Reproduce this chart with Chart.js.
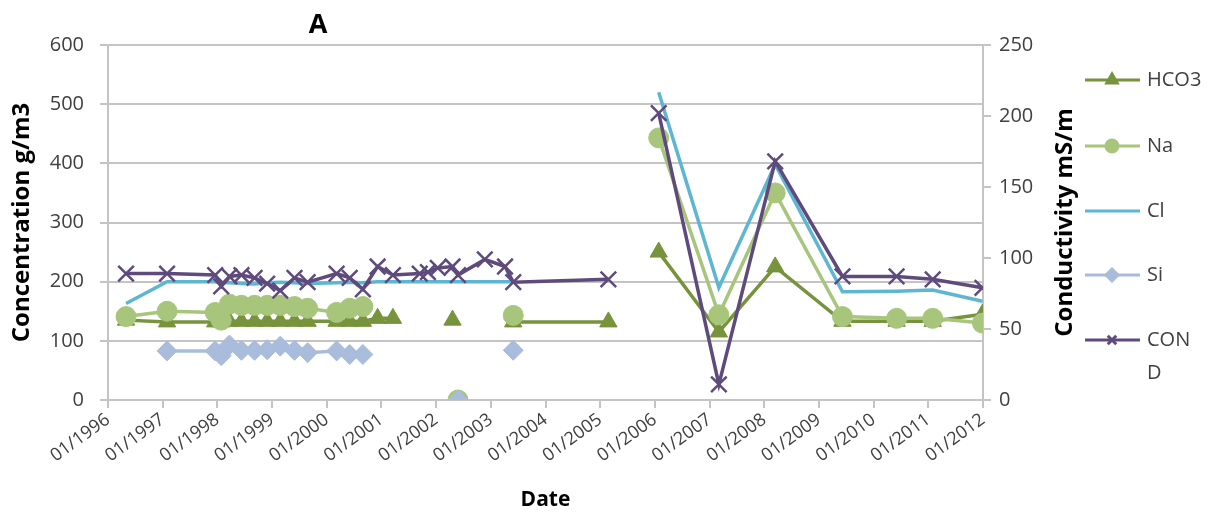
<!DOCTYPE html>
<html>
<head>
<meta charset="utf-8">
<script src="https://cdn.jsdelivr.net/npm/chart.js@4.4.1/dist/chart.umd.min.js"></script>
<style>
  html, body { margin: 0; padding: 0; background: #fff; }
  #wrap { position: relative; width: 1216px; height: 519px; }
</style>
</head>
<body>
<div id="wrap"><canvas id="chart"></canvas></div>
<script>
// sample dates as decimal years (shared by all series, null = no sample)
const dates = [1996.33, 1997.08, 1997.96, 1998.07, 1998.22, 1998.44, 1998.68, 1998.91, 1999.15, 1999.41,
  1999.65, 2000.18, 2000.42, 2000.66, 2000.93, 2001.21, 2001.70, 2001.85, 2002.03, 2002.30,
  2002.40, 2002.89, 2003.26, 2003.41, 2005.15, 2005.60, 2006.07, 2007.17, 2008.20, 2009.43,
  2010.42, 2011.08, 2011.99];

const hco3 = [135, 132, 132, 132, 133, 133, 133, 133, 133, 133,
  133, 133, 133, 133, 138, 138, null, null, null, 135,
  null, null, null, 132, 132, null, 250, 115, 225, 133,
  133, 133, 145];
const na = [141, 150, 148, 135, 162, 160, 160, 160, 160, 158,
  155, 148, 155, 158, null, null, null, null, null, null,
  0, null, null, 143, null, null, 443, 144, 350, 141,
  138, 138, 130];
const cl = [163, 200, 200, 198, 198, 197, 196, 198, 199, 198,
  197, 198, 199, 198, 200, 200, 200, 200, 200, 200,
  200, 200, 200, 200, null, null, 520, 190, 398, 183,
  184, 186, 167];
const si = [null, 83, 83, 75, 93, 84, 84, 85, 91, 84,
  80, 83, 77, 77, null, null, null, null, null, null,
  0, null, null, 84, null, null, null, null, null, null,
  null, null, null];
const cond = [89, 89, 88, 80, 87, 88, 86, 82, 77, 86,
  83, 89, 86, 78, 94, 88, 89, 90, 93, 94,
  88, 99, 94, 83, 85, null, 202, 11, 168, 87,
  87, 85, 79];

const yTicksLeft = [0, 100, 200, 300, 400, 500, 600];
const yTicksRight = [0, 50, 100, 150, 200, 250];
const xYears = [1996, 2012];

const FONT = '"Open Sans", sans-serif';
const TEXT = '#404040';
const GRID = '#c4c4c4';

function pts(vals) {
  return dates.map((d, i) => ({ x: d, y: vals[i] }));
}

function series(label, vals, color, style, radius, order, axis) {
  return {
    label, data: pts(vals), yAxisID: axis || 'y', order,
    borderColor: color, backgroundColor: color,
    borderWidth: 3.5, tension: 0, spanGaps: false,
    pointStyle: style, pointRadius: radius,
    pointBackgroundColor: color, pointBorderColor: color,
    pointBorderWidth: style === 'crossRot' ? 2.5 : 1
  };
}

const datasets = [
  series('HCO3', hco3, '#77933c', 'triangle', 10, 4),
  series('Na', na, '#a7c67b', 'circle', 10, 3),
  series('Cl', cl, '#5db6d2', false, 0, 2),
  series('Si', si, '#a9bcdb', 'rectRot', 10, 1),
  series('COND', cond, '#5f4a7d', 'crossRot', 11, 0, 'y1')
];

// extra text and legend drawn straight onto the canvas
const decorPlugin = {
  id: 'decor',
  afterDraw(chart) {
    const ctx = chart.ctx;
    const area = chart.chartArea;
    ctx.save();
    ctx.fillStyle = '#000';
    ctx.textAlign = 'center';
    ctx.textBaseline = 'middle';
    ctx.font = 'bold 27px ' + FONT;
    ctx.fillText('A', 318, 25);

    // right axis title reads bottom to top
    ctx.save();
    ctx.translate(1065, (area.top + area.bottom) / 2);
    ctx.rotate(-Math.PI / 2);
    ctx.font = 'bold 24px ' + FONT;
    ctx.fillText('Conductivity mS/m', 0, 0);
    ctx.restore();

    // legend
    const lx = chart.width - 131;
    const rows = [80, 146, 211, 275, 340];
    chart.data.datasets.forEach((ds, i) => {
      const y = rows[i];
      ctx.strokeStyle = ds.borderColor;
      ctx.lineWidth = 3;
      ctx.beginPath();
      ctx.moveTo(lx, y);
      ctx.lineTo(lx + 55, y);
      ctx.stroke();
      if (ds.pointStyle) {
        Chart.helpers.drawPoint(ctx, {
          pointStyle: ds.pointStyle, radius: 6, rotation: 0,
          borderWidth: ds.pointBorderWidth
        }, lx + 27, y);
        ctx.fillStyle = ds.borderColor;
        ctx.fill();
      }
      ctx.fillStyle = TEXT;
      ctx.textAlign = 'left';
      ctx.font = '20px ' + FONT;
      if (ds.label === 'COND') {
        ctx.fillText('CON', lx + 62, y);
        ctx.fillText('D', lx + 62, y + 33);
      } else {
        ctx.fillText(ds.label, lx + 62, y);
      }
    });
    ctx.restore();
  }
};

new Chart(document.getElementById('chart'), {
  type: 'line',
  data: { datasets },
  plugins: [decorPlugin],
  options: {
    responsive: true, maintainAspectRatio: false, animation: false,
    layout: { padding: { top: 45, right: 135, left: 0, bottom: 0 } },
    plugins: { legend: { display: false }, tooltip: { enabled: false } },
    scales: {
      x: {
        type: 'linear', min: xYears[0], max: xYears[1],
        afterFit: s => { s.height = 119; },
        afterBuildTicks: s => {
          s.ticks = [];
          for (let yr = xYears[0]; yr <= xYears[1]; yr++) s.ticks.push({ value: yr });
        },
        ticks: {
          autoSkip: false, maxRotation: 36, minRotation: 36, padding: 1,
          color: TEXT, font: { family: FONT, size: 18 },
          callback: v => '01/' + v
        },
        grid: { drawOnChartArea: false, tickLength: 8, color: GRID, lineWidth: 2 },
        border: { color: GRID, width: 2 },
        title: {
          display: true, text: 'Date', color: '#000',
          font: { family: FONT, size: 21, weight: 'bold' },
          padding: { top: 0, bottom: 6 }
        }
      },
      y: {
        position: 'left', min: 0, max: 600,
        afterFit: s => { s.width = 108; },
        afterBuildTicks: s => { s.ticks = yTicksLeft.map(v => ({ value: v })); },
        ticks: { color: TEXT, font: { family: FONT, size: 20 }, padding: 16 },
        grid: { color: GRID, lineWidth: 2, tickLength: 8 },
        border: { color: GRID, width: 2 },
        title: {
          display: true, text: 'Concentration g/m3', color: '#000',
          font: { family: FONT, size: 24, weight: 'bold' },
          padding: { top: 8, bottom: 0 }
        }
      },
      y1: {
        position: 'right', min: 0, max: 250,
        afterFit: s => { s.width = 98; },
        afterBuildTicks: s => { s.ticks = yTicksRight.map(v => ({ value: v })); },
        ticks: { color: TEXT, font: { family: FONT, size: 20 }, padding: 8 },
        grid: { drawOnChartArea: false, color: GRID, lineWidth: 2, tickLength: 8 },
        border: { color: GRID, width: 2 }
      }
    }
  }
});
</script>
</body>
</html>
